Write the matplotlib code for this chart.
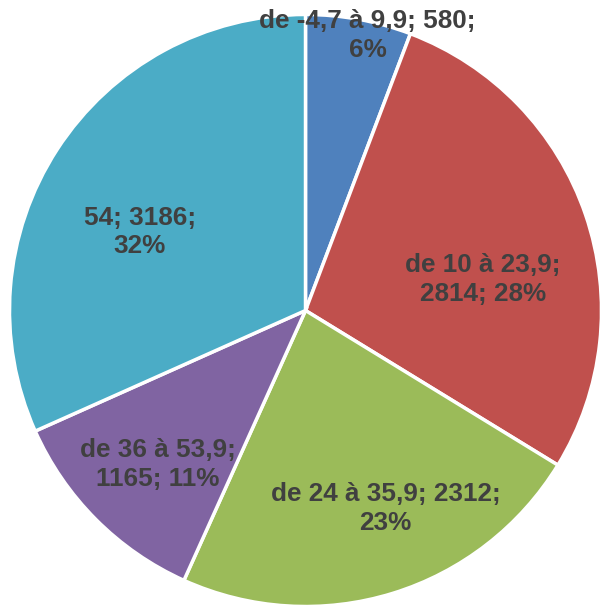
import matplotlib
matplotlib.use("Agg")
import matplotlib.pyplot as plt

categories = ["de -4,7 à 9,9", "de 10 à 23,9", "de 24 à 35,9", "de 36 à 53,9", "54"]
values = [580, 2814, 2312, 1165, 3186]
percents = ["6%", "28%", "23%", "11%", "32%"]
colors = ["#4F81BD", "#C0504D", "#9BBB59", "#8064A2", "#4BACC6"]

label_texts = [
    f"{categories[0]}; {values[0]};\n{percents[0]}",
    f"{categories[1]};\n{values[1]}; {percents[1]}",
    f"{categories[2]}; {values[2]};\n{percents[2]}",
    f"{categories[3]};\n{values[3]}; {percents[3]}",
    f"{categories[4]}; {values[4]};\n{percents[4]}",
]
label_pos = [(0.21, 0.93), (0.60, 0.105), (0.27, -0.67), (-0.50, -0.52), (-0.56, 0.265)]

fig = plt.figure(figsize=(6.01, 6.06), dpi=100)
ax = fig.add_axes([0, 0, 1, 1])
ax.pie(values, colors=colors, startangle=90, counterclock=False,
       wedgeprops=dict(edgecolor="white", linewidth=2.5), radius=1.0)
for txt, (x, y) in zip(label_texts, label_pos):
    ax.text(x, y, txt, ha="center", va="center", fontsize=18.8, fontweight="bold",
            color="#404040", family="Liberation Sans", linespacing=1.25)

W, H = 601, 606
cx, cy, r = 305.5, 310.5, 296
ax.set_xlim(-cx / r, (W - cx) / r)
ax.set_ylim(-(H - cy) / r, cy / r)
ax.set_aspect("equal")
ax.axis("off")
fig.savefig("out.png", dpi=100)
